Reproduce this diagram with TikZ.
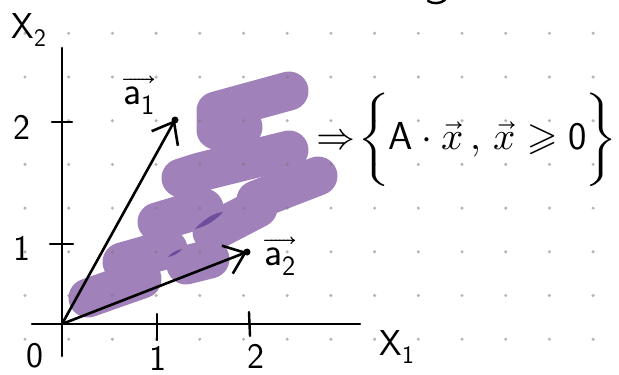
\documentclass[tikz,border=0pt]{standalone}
\usepackage{fontspec}
\usepackage{unicode-math}
\setmathfont{Latin Modern Math}
\usetikzlibrary{arrows.meta}
\definecolor{purp}{RGB}{161,129,186}
\definecolor{purpdark}{RGB}{110,78,156}
\definecolor{dotc}{RGB}{120,120,120}
\begin{document}
\begin{tikzpicture}[x=1pt,y=-1pt,
  axis/.style={line width=2.6pt,line cap=round},
  tickln/.style={line width=2.4pt,line cap=round},
  vecarrow/.style={line width=2.6pt,line cap=round,-{Straight Barb[length=19pt,width=30pt,line width=2.6pt]}},
  brush/.style={purp,line width=39pt,line cap=round,line join=round},
  lbl/.style={font=\fontsize{36}{40}\selectfont\sffamily,inner sep=0pt},
  vlbl/.style={font=\fontsize{40}{44}\selectfont,inner sep=0pt},
  dotmark/.style={fill=dotc,opacity=0.55}]
\useasboundingbox (0,0) rectangle (619,375);
% purple region
\draw[brush] (88,298) -- (142,279)
  (122,262) -- (168,249)
  (157,222) -- (204,208)
  (181,178) -- (200,172) -- (289,150)
  (243,127) -- (216,130) -- (216,111) -- (289,91);
\draw[brush] (186,265) -- (210,259)
  (212,232) -- (258,208)
  (256,200) -- (318,176);
\fill[purpdark] (195,229) .. controls (204,219) and (214,213) .. (223,212) .. controls (214,222) and (204,227) .. cycle;
\fill[purpdark] (168,257) .. controls (172,252) and (177,250) .. (182,249) .. controls (178,254) and (173,256) .. cycle;
% dot grid
\foreach \i in {0,...,13}
  \foreach \j in {0,...,7}
    \fill[dotmark] (25+43.7*\i,33.3+43.7*\j) circle (1.7);
% axes
\coordinate (O) at (62,324);
\coordinate (ytop) at (62,48);
\coordinate (ybot) at (62,356);
\coordinate (xleft) at (32,324);
\coordinate (xright) at (360,324);
\draw[axis] (ybot) -- (ytop);
\draw[axis] (xleft) -- (xright);
% ticks
\coordinate (ty2a) at (52,122); \coordinate (ty2b) at (72,122);
\coordinate (ty1a) at (50,244); \coordinate (ty1b) at (73,244);
\coordinate (tx1a) at (157,314); \coordinate (tx1b) at (157,340);
\coordinate (tx2a) at (249,312); \coordinate (tx2b) at (250,336);
\draw[tickln] (ty2a) -- (ty2b);
\draw[tickln] (ty1a) -- (ty1b);
\draw[tickln] (tx1a) -- (tx1b);
\draw[tickln] (tx2a) -- (tx2b);
% vectors
\coordinate (A1) at (175,120);
\coordinate (A2) at (247,252);
\draw[vecarrow] (O) -- (A1);
\draw[vecarrow] (O) -- (A2);
\fill (A1) circle (3.5);
\fill (A2) circle (3.5);
% labels
\node[lbl] (x2lbl) at (29,30) {X\textsubscript{2}};
\node[lbl] (y2lbl) at (22,127) {2};
\node[lbl] (y1lbl) at (22,248) {1};
\node[lbl] (zlbl) at (35,356) {0};
\node[lbl] (x1num) at (158,358) {1};
\node[lbl] (x2num) at (256,356) {2};
\node[lbl] (x1lbl) at (397,347) {X\textsubscript{1}};
\node[vlbl] (a1lbl) at (139,95) {$\overrightarrow{\mathsf{a}_{\mathsf{1}}}$};
\node[vlbl] (a2lbl) at (280,256) {$\overrightarrow{\mathsf{a}_{\mathsf{2}}}$};
\node[inner sep=0pt,font=\fontsize{39}{43}\selectfont] (setlbl) at (466,140)
  {$\Rightarrow\!\bigg\{\mathsf{A}\cdot\vec{x}\,,\,\vec{x}\geqslant\mathsf{0}\bigg\}$};
% fragment at top edge
\coordinate (fa) at (428,1);
\coordinate (fb) at (445,0);
\draw[line width=2.4pt,line cap=round] (fa) .. controls (433,4) and (440,4) .. (fb);
\end{tikzpicture}
\end{document}
